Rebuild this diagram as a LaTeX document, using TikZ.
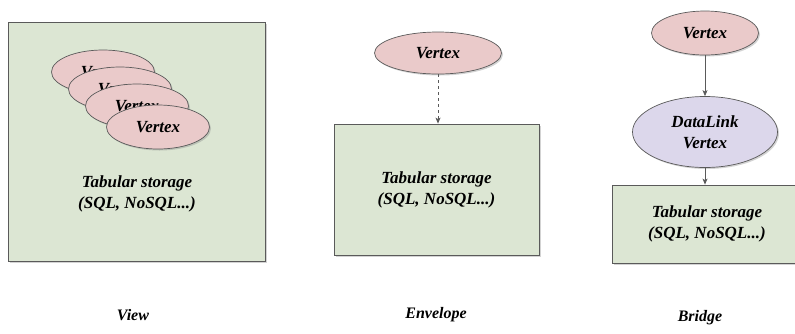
\documentclass[tikz,border=0pt]{standalone}
\usepackage{fontspec}
\setmainfont{Liberation Serif}
\usetikzlibrary{shapes.geometric,shadows,arrows.meta}
\definecolor{boxgreen}{HTML}{DCE6D3}
\definecolor{vpink}{HTML}{EACACA}
\definecolor{vpurple}{HTML}{DCD7EB}
\definecolor{edgegray}{HTML}{5A5A5A}
\begin{document}
\begin{tikzpicture}[x=1pt,y=-1pt,
  lbl/.style={font=\fontsize{17}{21}\selectfont\bfseries\itshape},
  storage/.style={draw=edgegray,line width=0.8pt,fill=boxgreen,inner sep=0pt,
    drop shadow={shadow xshift=1.5pt,shadow yshift=-1.5pt,opacity=0.35},
    lbl,align=center},
  vert/.style={ellipse,draw=edgegray,line width=0.7pt,fill=vpink,inner sep=0pt,
    drop shadow={shadow xshift=1.5pt,shadow yshift=-1.5pt,opacity=0.35},
    minimum width=103pt,minimum height=44pt,lbl,align=center},
  conn/.style={draw=edgegray,line width=0.8pt,-{Stealth[length=6pt,width=5pt,inset=1.5pt]}},
  title/.style={font=\fontsize{16}{18}\selectfont\bfseries\itshape}
]
\useasboundingbox (0,0) rectangle (795,333);
% View
\node[storage,minimum width=257pt,minimum height=239pt] (viewbox) at (136.5,141.5) {};
\node[lbl,align=center] (viewtxt) at (137,194) {Tabular storage\\(SQL, NoSQL...)};
\node[vert] (v1) at (103,72) {Vertex};
\node[vert] (v2) at (120,89) {Vertex};
\node[vert] (v3) at (137,106) {Vertex};
\node[vert] (v4) at (158,127) {Vertex};
% Envelope
\node[vert,minimum width=127pt,minimum height=42pt] (ev) at (438,53) {Vertex};
\node[storage,minimum width=205pt,minimum height=131pt] (ebox) at (436.5,189.5) {Tabular storage\\(SQL, NoSQL...)};
\draw[conn,dashed] (ev.south) -- (ev.south |- ebox.north);
% Bridge
\node[vert,minimum width=107pt,minimum height=44pt] (bv) at (705,33) {Vertex};
\node[vert,fill=vpurple,minimum width=145pt,minimum height=71pt] (dl) at (705,132) {DataLink\\Vertex};
\node[storage,minimum width=190pt,minimum height=78pt] (bbox) at (707,224) {Tabular storage\\(SQL, NoSQL...)};
\draw[conn] (bv.south) -- (dl.north);
\draw[conn] (dl.south) -- (dl.south |- bbox.north);
% titles
\node[title] (tview) at (133,315) {View};
\node[title] (tenv) at (436,315) {Envelope};
\node[title] (tbridge) at (700,318) {Bridge};
\end{tikzpicture}
\end{document}
